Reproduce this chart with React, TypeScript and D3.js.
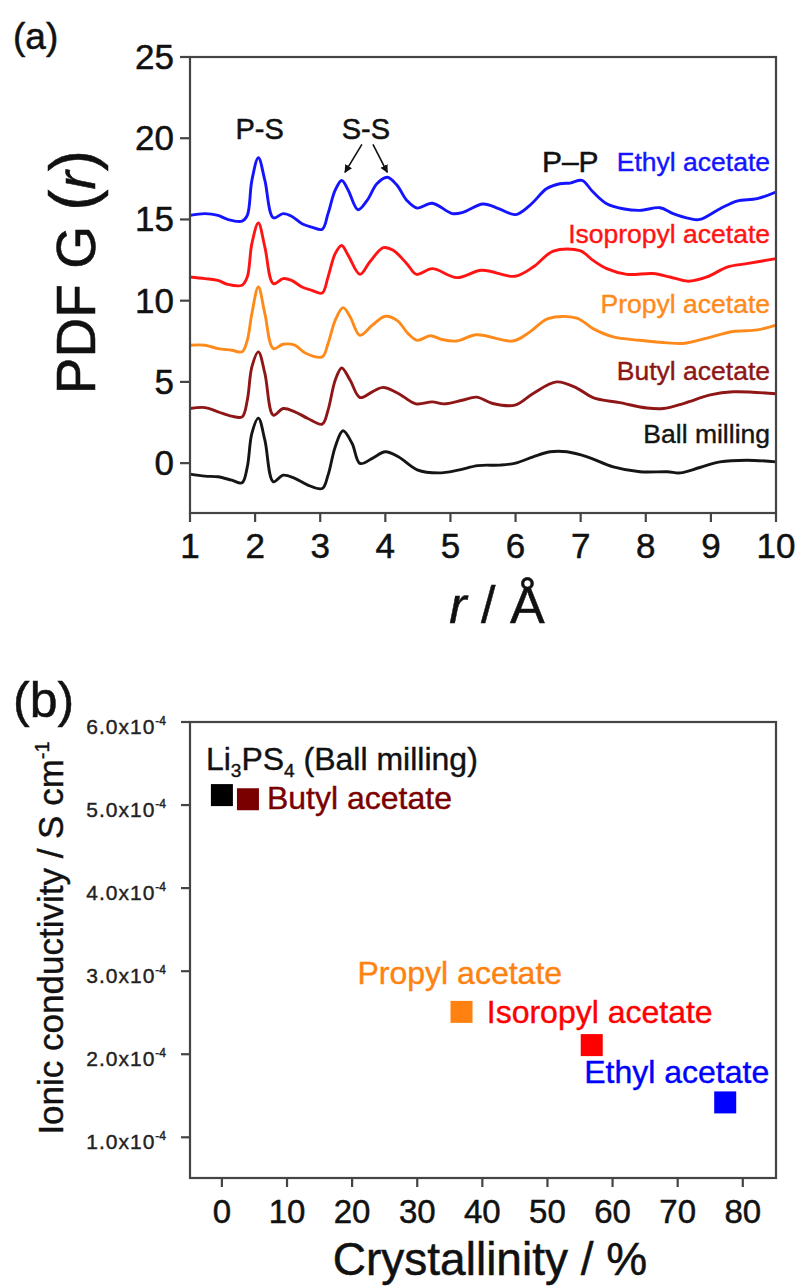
import React from "react";
import * as d3 from "d3";

const FONT = "'Liberation Sans', Arial, Helvetica, sans-serif";

// ---------- Panel (a): PDF G(r) traces (vertical offsets included) ----------
const ethylAcetate: [number, number][] = [
  [1.0, 15.25], [1.23, 15.36], [1.43, 15.25], [1.58, 15.0], [1.8, 14.9], [1.88, 15.25],
  [1.95, 17.4], [2.05, 18.8], [2.15, 17.4], [2.28, 15.1], [2.43, 15.36], [2.56, 15.2],
  [2.72, 14.74], [2.87, 14.53], [3.03, 14.39], [3.12, 15.36], [3.23, 16.8], [3.33, 17.4],
  [3.43, 16.8], [3.58, 15.6], [3.72, 16.17], [3.87, 17.2], [4.03, 17.6], [4.18, 17.1],
  [4.33, 16.17], [4.49, 15.7], [4.72, 16.0], [5.03, 15.36], [5.2, 15.45], [5.5, 15.95],
  [5.75, 15.65], [6.0, 15.3], [6.22, 15.87], [6.48, 16.9], [6.68, 17.2], [6.84, 17.24],
  [7.02, 17.4], [7.19, 16.69], [7.4, 15.97], [7.65, 15.66], [7.91, 15.56], [8.22, 15.72],
  [8.42, 15.36], [8.68, 15.05], [8.83, 15.0], [9.14, 15.66], [9.4, 16.13], [9.71, 16.28],
  [10.0, 16.69],
];
const isopropylAcetate: [number, number][] = [
  [1.0, 11.46], [1.23, 11.36], [1.43, 11.25], [1.58, 11.0], [1.8, 10.95], [1.88, 11.46],
  [1.95, 13.51], [2.05, 14.78], [2.15, 13.3], [2.28, 11.05], [2.43, 11.36], [2.56, 11.25],
  [2.72, 10.84], [2.87, 10.64], [3.03, 10.47], [3.12, 11.46], [3.23, 12.9], [3.33, 13.4],
  [3.43, 12.79], [3.61, 11.62], [3.76, 12.38], [3.97, 13.26], [4.12, 13.1], [4.33, 12.28],
  [4.48, 11.62], [4.72, 11.97], [5.1, 11.42], [5.48, 11.87], [5.99, 11.5], [6.27, 12.07],
  [6.58, 13.05], [6.99, 13.08], [7.19, 12.48], [7.4, 11.97], [7.71, 11.62], [8.11, 11.67],
  [8.37, 11.46], [8.65, 11.2], [8.94, 11.46], [9.25, 12.07], [9.55, 12.28], [10.0, 12.59],
];
const propylAcetate: [number, number][] = [
  [1.0, 7.26], [1.23, 7.26], [1.43, 7.05], [1.64, 6.95], [1.8, 6.85], [1.88, 7.56],
  [1.95, 9.2], [2.05, 10.84], [2.15, 9.2], [2.28, 7.05], [2.43, 7.32], [2.61, 7.26],
  [2.77, 6.78], [3.03, 6.54], [3.12, 7.36], [3.23, 8.79], [3.35, 9.57], [3.46, 9.0],
  [3.61, 7.87], [3.8, 8.49], [4.0, 9.04], [4.18, 8.79], [4.35, 7.97], [4.49, 7.56],
  [4.69, 7.84], [4.87, 7.61], [5.1, 7.52], [5.4, 7.9], [5.96, 7.52], [6.22, 8.08],
  [6.5, 8.9], [6.94, 8.93], [7.19, 8.28], [7.5, 7.77], [7.91, 7.56], [8.33, 7.4],
  [8.6, 7.38], [8.94, 7.7], [9.34, 8.1], [9.71, 8.2], [10.0, 8.5],
];
const butylAcetate: [number, number][] = [
  [1.0, 3.36], [1.23, 3.42], [1.43, 3.16], [1.64, 2.89], [1.8, 2.85], [1.88, 3.87],
  [1.95, 5.92], [2.05, 6.85], [2.15, 5.52], [2.28, 2.95], [2.43, 3.36], [2.61, 3.16],
  [2.81, 2.75], [3.03, 2.4], [3.12, 3.26], [3.23, 5.1], [3.33, 5.86], [3.46, 5.1],
  [3.61, 4.04], [3.8, 4.39], [3.97, 4.66], [4.2, 4.29], [4.47, 3.65], [4.72, 3.77],
  [4.9, 3.65], [5.18, 3.87], [5.4, 4.06], [5.65, 3.67], [5.99, 3.57], [6.27, 4.29],
  [6.63, 5.0], [6.94, 4.62], [7.19, 4.03], [7.6, 3.72], [8.02, 3.39], [8.27, 3.36],
  [8.6, 3.7], [8.99, 4.2], [9.34, 4.39], [10.0, 4.27],
];
const ballMilling: [number, number][] = [
  [1.0, -0.68], [1.23, -0.8], [1.43, -0.84], [1.64, -1.05], [1.8, -1.21], [1.88, -0.23],
  [1.95, 1.83], [2.05, 2.77], [2.15, 1.41], [2.28, -1.15], [2.43, -0.74], [2.61, -0.94],
  [2.81, -1.35], [3.03, -1.56], [3.12, -0.74], [3.23, 1.0], [3.35, 1.99], [3.49, 1.21],
  [3.61, -0.02], [3.8, 0.29], [4.0, 0.7], [4.2, 0.39], [4.49, -0.41], [4.82, -0.6],
  [5.12, -0.43], [5.42, -0.15], [5.76, -0.12], [6.0, 0.0], [6.27, 0.39], [6.53, 0.7],
  [6.79, 0.7], [7.1, 0.39], [7.5, -0.23], [7.91, -0.53], [8.33, -0.53], [8.53, -0.6],
  [8.83, -0.27], [9.14, 0.08], [9.55, 0.18], [10.0, 0.08],
];

const pdfNames = ["Ethyl acetate", "Isopropyl acetate", "Propyl acetate", "Butyl acetate", "Ball milling"];
const pdfData = [ethylAcetate, isopropylAcetate, propylAcetate, butylAcetate, ballMilling];
const pdfColors = ["#1414ff", "#ff1414", "#ff8a1c", "#8e1616", "#151515"];
const pdfLabelBaselines = [171, 243, 313, 380, 443];

const rTicks = [1, 2, 3, 4, 5, 6, 7, 8, 9, 10];
const gTicks = [0, 5, 10, 15, 20, 25];

// ---------- Panel (b): ionic conductivity vs crystallinity ----------
const sampleNames = ["Li3PS4 (Ball milling)", "Butyl acetate", "Propyl acetate", "Isoropyl acetate", "Ethyl acetate"];
const sampleColors = ["#000000", "#7a0000", "#ff8210", "#ff0000", "#0000ff"];
const crystallinity = [0, 4.0, 36.8, 56.8, 77.3];
const conductivity = [5.12e-4, 5.07e-4, 2.51e-4, 2.11e-4, 1.42e-4];
// label text offsets from each marker centre (px)
const sampleLabelOffsets: [number, number][] = [[-16, -25], [19, 10], [-104, -28], [-105, -22], [-141, -19]];

const crystTicks = [0, 10, 20, 30, 40, 50, 60, 70, 80];
const condTicks = [1e-4, 2e-4, 3e-4, 4e-4, 5e-4, 6e-4];

const AXIS = "#444";

// slightly heavier glyphs, drawn with a thin outline in the fill colour
const heavy = (c: string, w = 0.5) => ({ fill: c, stroke: c, strokeWidth: w, paintOrder: "stroke" as const });

function PanelA() {
  const x = d3.scaleLinear().domain([1, 10]).range([190, 776]);
  const y = d3.scaleLinear().domain([-3.07, 25]).range([513, 57]);
  const line = d3
    .line<[number, number]>()
    .x((d) => x(d[0]))
    .y((d) => y(d[1]))
    .curve(d3.curveCatmullRom.alpha(0.5));
  const [x0, x1] = x.range();
  const [yb, yt] = y.range();
  return (
    <g>
      <defs>
        <marker id="arrowHead" viewBox="0 0 10 10" refX="9" refY="5" markerWidth="5" markerHeight="5" orient="auto-start-reverse" markerUnits="strokeWidth">
          <path d="M0,0 L10,5 L0,10 z" fill="#111" />
        </marker>
      </defs>
      {pdfData.map((d, i) => (
        <path key={pdfNames[i]} d={line(d) || ""} fill="none" stroke={pdfColors[i]} strokeWidth={2.9} strokeLinejoin="round" />
      ))}
      <rect x={x0} y={yt} width={x1 - x0} height={yb - yt} fill="none" stroke={AXIS} strokeWidth={2.2} />
      {gTicks.map((t) => (
        <g key={"g" + t}>
          <line x1={x0 - 10} x2={x0} y1={y(t)} y2={y(t)} stroke={AXIS} strokeWidth={2.2} />
          <text x={x0 - 16} y={y(t) + 12} textAnchor="end" fontSize={35} fontFamily={FONT} {...heavy("#111")}>
            {t}
          </text>
        </g>
      ))}
      {rTicks.map((t) => (
        <g key={"r" + t}>
          <line x1={x(t)} x2={x(t)} y1={yb} y2={yb + 9} stroke={AXIS} strokeWidth={2.2} />
          <text x={x(t)} y={yb + 45} textAnchor="middle" fontSize={35} fontFamily={FONT} {...heavy("#111")}>
            {t}
          </text>
        </g>
      ))}
      {pdfNames.map((n, i) => (
        <text key={"lab" + n} x={770} y={pdfLabelBaselines[i]} textAnchor="end" fontSize={26.5} fontFamily={FONT} {...heavy(pdfColors[i], 0.4)}>
          {n}
        </text>
      ))}
      <text x={x(2.07)} y={139} textAnchor="middle" fontSize={29} fontFamily={FONT} {...heavy("#111")}>P-S</text>
      <text x={x(3.7)} y={139} textAnchor="middle" fontSize={29} fontFamily={FONT} {...heavy("#111")}>S-S</text>
      <text x={x(6.84)} y={172} textAnchor="middle" fontSize={30} fontFamily={FONT} {...heavy("#111")}>P–P</text>
      <line x1={x(3.64)} y1={y(19.62)} x2={x(3.38)} y2={y(17.9)} stroke="#111" strokeWidth={1.6} markerEnd="url(#arrowHead)" />
      <line x1={x(3.81)} y1={y(19.62)} x2={x(4.03)} y2={y(17.9)} stroke="#111" strokeWidth={1.6} markerEnd="url(#arrowHead)" />
      <text x={497} y={623} textAnchor="middle" fontSize={52} fontFamily={FONT} {...heavy("#111")}>
        <tspan fontStyle="italic">r</tspan>
        <tspan> / Å</tspan>
      </text>
      <text transform="translate(95,272) rotate(-90)" textAnchor="middle" fontSize={55} fontFamily={FONT} {...heavy("#111")}>
        <tspan>PDF G </tspan>
        <tspan fontSize={64}>(</tspan>
        <tspan fontStyle="italic">r</tspan>
        <tspan fontSize={64}>)</tspan>
      </text>
      <text x={13} y={49} fontSize={37} fontFamily={FONT} {...heavy("#111")}>(a)</text>
    </g>
  );
}

function PanelB() {
  const x = d3.scaleLinear().domain([-4.9, 85.1]).range([190, 776]);
  const y = d3.scaleLinear().domain([0.51e-4, 6.0e-4]).range([1178, 722]);
  const [x0, x1] = x.range();
  const [yb, yt] = y.range();
  const sq = 22;
  const mantissa = d3.format(".1f");
  return (
    <g>
      <rect x={x0} y={yt} width={x1 - x0} height={yb - yt} fill="none" stroke={AXIS} strokeWidth={2.2} />
      {condTicks.map((t) => (
        <g key={"c" + t}>
          <line x1={x0 - 9} x2={x0} y1={y(t)} y2={y(t)} stroke={AXIS} strokeWidth={2.2} />
          <text x={166} y={y(t) + 12} textAnchor="end" fontSize={21} letterSpacing={1} fontFamily={FONT} {...heavy("#222", 0.4)}>
            <tspan>{mantissa(t * 1e4)}x10</tspan>
            <tspan fontSize={12} dy={-9} letterSpacing={0}>-4</tspan>
          </text>
        </g>
      ))}
      {crystTicks.map((t) => (
        <g key={"x" + t}>
          <line x1={x(t)} x2={x(t)} y1={yb} y2={yb + 9} stroke={AXIS} strokeWidth={2.2} />
          <text x={x(t)} y={1223} textAnchor="middle" fontSize={33} fontFamily={FONT} {...heavy("#111")}>
            {t}
          </text>
        </g>
      ))}
      {crystallinity.map((c, i) => (
        <rect key={"m" + i} x={x(c) - sq / 2} y={y(conductivity[i]) - sq / 2} width={sq} height={sq} fill={sampleColors[i]} />
      ))}
      {crystallinity.map((c, i) => {
        const tx = x(c) + sampleLabelOffsets[i][0];
        const ty = y(conductivity[i]) + sampleLabelOffsets[i][1];
        if (i === 0) {
          return (
            <text key={"t0"} x={tx} y={ty} fontSize={32} fontFamily={FONT} {...heavy("#111", 0.4)}>
              <tspan>Li</tspan>
              <tspan fontSize={19} dy={7}>3</tspan>
              <tspan dy={-7}>PS</tspan>
              <tspan fontSize={19} dy={7}>4</tspan>
              <tspan dy={-7}> (Ball milling)</tspan>
            </text>
          );
        }
        return (
          <text key={"t" + i} x={tx} y={ty} fontSize={32} fontFamily={FONT} {...heavy(sampleColors[i], 0.4)}>
            {sampleNames[i]}
          </text>
        );
      })}
      <text x={490} y={1275} textAnchor="middle" fontSize={46} fontFamily={FONT} {...heavy("#111")}>
        Crystallinity / %
      </text>
      <text transform="translate(63,938) rotate(-90)" textAnchor="middle" fontSize={35} fontFamily={FONT} {...heavy("#111", 0.4)}>
        <tspan>Ionic conductivity / S cm</tspan>
        <tspan fontSize={20} dy={-14}>-1</tspan>
      </text>
      <text x={13} y={717} fontSize={50} fontFamily={FONT} {...heavy("#111")}>(b)</text>
    </g>
  );
}

export default function App() {
  return (
    <div style={{ position: "absolute", left: 0, top: 0 }}>
      <svg width={799} height={1287} viewBox="0 0 799 1287" style={{ display: "block", background: "#fff" }}>
        <PanelA />
        <PanelB />
      </svg>
    </div>
  );
}
